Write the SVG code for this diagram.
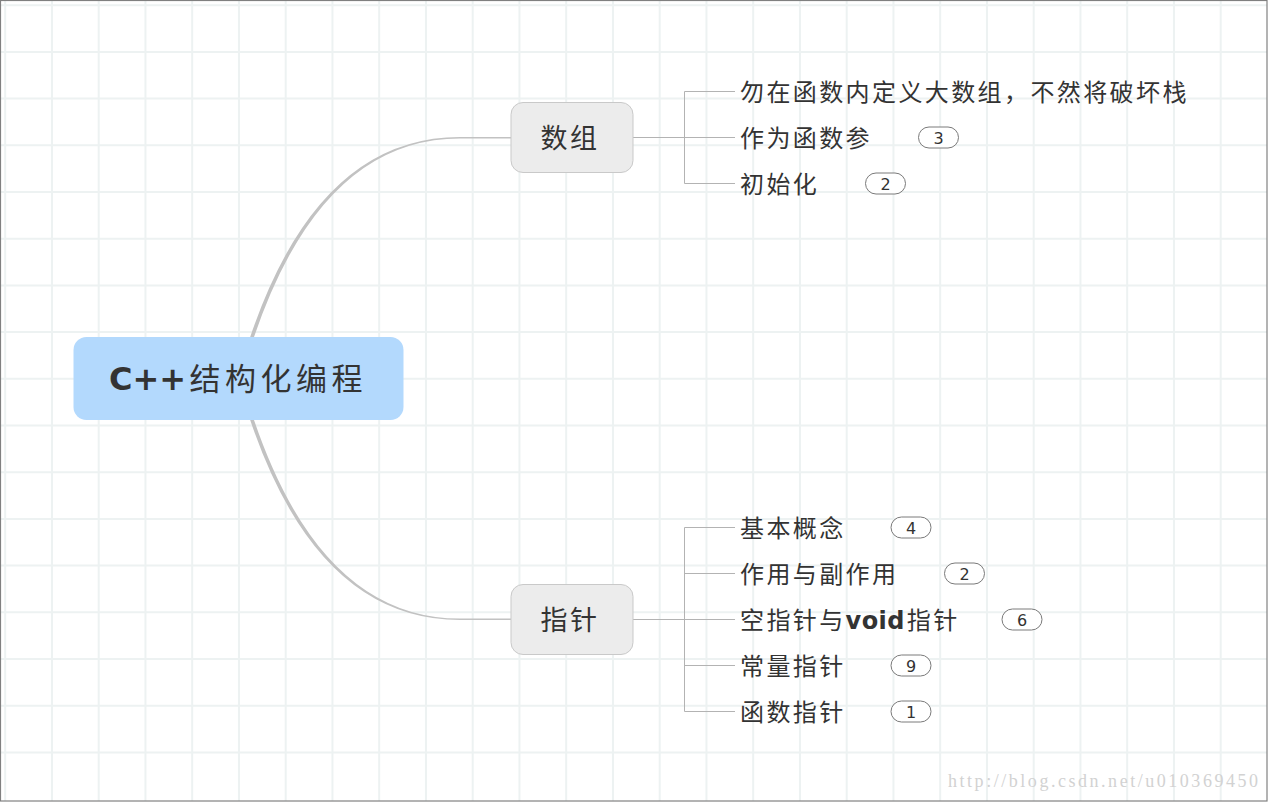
<svg xmlns="http://www.w3.org/2000/svg" width="1269" height="802" viewBox="0 0 1269 802">
<style>
.grid{stroke:#edf2f2;stroke-width:2;fill:none}
.curve{fill:#c2c2c2;stroke:none}
.link{stroke:#b3b3b3;stroke-width:1;fill:none}
.sub rect{fill:#ececec;stroke:#c9c9c9;stroke-width:1}
.sub text{font-family:"Noto Sans CJK SC","Noto Sans",sans-serif;font-size:27px;letter-spacing:2.5px;fill:#333}
.leaf text.t{font-family:"Noto Sans CJK SC","Noto Sans",sans-serif;font-size:24px;letter-spacing:2.4px;fill:#333}
.bold{font-family:"DejaVu Sans",sans-serif;font-weight:bold}
.badge rect{fill:#fff;stroke:#7a7a7a;stroke-width:1}
.badge text{font-family:"DejaVu Sans",sans-serif;font-size:16px;fill:#333;text-anchor:middle}
</style>
<rect x="0" y="0" width="1269" height="802" fill="#ffffff"/>
<path class="grid" d="M5.2 0V801M51.95 0V801M98.7 0V801M145.45 0V801M192.2 0V801M238.95 0V801M285.7 0V801M332.45 0V801M379.2 0V801M425.95 0V801M472.7 0V801M519.45 0V801M566.2 0V801M612.95 0V801M659.7 0V801M706.45 0V801M753.2 0V801M799.95 0V801M846.7 0V801M893.45 0V801M940.2 0V801M986.95 0V801M1033.7 0V801M1080.45 0V801M1127.2 0V801M1173.95 0V801M1220.7 0V801M0 5.2H1267M0 51.9H1267M0 98.6H1267M0 145.3H1267M0 192H1267M0 238.7H1267M0 285.4H1267M0 332.1H1267M0 378.8H1267M0 425.5H1267M0 472.2H1267M0 518.9H1267M0 565.6H1267M0 612.3H1267M0 659H1267M0 705.7H1267M0 752.4H1267"/>
<text x="948" y="786.5" font-family="'Liberation Serif',serif" font-size="18" fill="#d2d2d2" textLength="310" lengthAdjust="spacing">http://blog.csdn.net/u010369450</text>
<g id="connectors">
<path class="curve" d="M248.5 342 Q316 137 460 137 L511 137 L511 138.4 L460 138.4 Q319.4 138.4 251.9 343.2 Z"/>
<path class="curve" d="M248.5 415 Q316 620 460 620 L511 620 L511 618.6 L460 618.6 Q319.4 618.6 251.9 413.8 Z"/>
<path class="link" d="M633 137.5H684.5M684.5 91.5V183.5M684.5 91.5H735M684.5 137.5H735M684.5 183.5H735"/>
<path class="link" d="M633 619.5H684.5M684.5 527.5V711.5M684.5 527.5H735M684.5 573.5H735M684.5 619.5H735M684.5 665.5H735M684.5 711.5H735"/>
</g>
<g id="root">
<rect x="73.5" y="337" width="330" height="83" rx="13" fill="#b3d9fd"/>
<text y="390" fill="#333"><tspan x="109" class="bold" font-size="32">C++</tspan><tspan x="189.5" font-family="'Noto Sans CJK SC','Noto Sans',sans-serif" font-size="31" letter-spacing="4.5">结构化编程</tspan></text>
</g>
<g id="shuzu" class="sub">
<rect x="511" y="102.5" width="122" height="70" rx="12"/>
<text x="540.5" y="147.5">数组</text>
</g>
<g id="zhizhen" class="sub">
<rect x="511" y="584.5" width="122" height="70" rx="12"/>
<text x="540.5" y="629.5">指针</text>
</g>
<g id="leaf-1" class="leaf">
<text class="t" x="740" y="101">勿在函数内定义大数组，不然将破坏栈</text>
</g>
<g id="leaf-2" class="leaf">
<text class="t" x="740" y="147">作为函数参</text>
<g class="badge"><rect x="918.5" y="127" width="40" height="21" rx="10.5"/><text x="938.5" y="143.5">3</text></g>
</g>
<g id="leaf-3" class="leaf">
<text class="t" x="740" y="193">初始化</text>
<g class="badge"><rect x="865.5" y="173" width="40" height="21" rx="10.5"/><text x="885.5" y="189.5">2</text></g>
</g>
<g id="leaf-4" class="leaf">
<text class="t" x="740" y="537">基本概念</text>
<g class="badge"><rect x="891" y="517" width="40" height="21" rx="10.5"/><text x="911" y="533.5">4</text></g>
</g>
<g id="leaf-5" class="leaf">
<text class="t" x="740" y="583">作用与副作用</text>
<g class="badge"><rect x="944.5" y="563" width="40" height="21" rx="10.5"/><text x="964.5" y="579.5">2</text></g>
</g>
<g id="leaf-6" class="leaf">
<text class="t" x="740" y="629">空指针与<tspan class="bold" letter-spacing="0.4">void</tspan><tspan dx="2">指针</tspan></text>
<g class="badge"><rect x="1002" y="609" width="40" height="21" rx="10.5"/><text x="1022" y="625.5">6</text></g>
</g>
<g id="leaf-7" class="leaf">
<text class="t" x="740" y="675">常量指针</text>
<g class="badge"><rect x="891" y="655" width="40" height="21" rx="10.5"/><text x="911" y="671.5">9</text></g>
</g>
<g id="leaf-8" class="leaf">
<text class="t" x="740" y="721">函数指针</text>
<g class="badge"><rect x="891" y="701" width="40" height="21" rx="10.5"/><text x="911" y="717.5">1</text></g>
</g>
<rect x="0.5" y="0.5" width="1266.5" height="800.5" fill="none" stroke="#808080" stroke-width="1.2"/>
</svg>
